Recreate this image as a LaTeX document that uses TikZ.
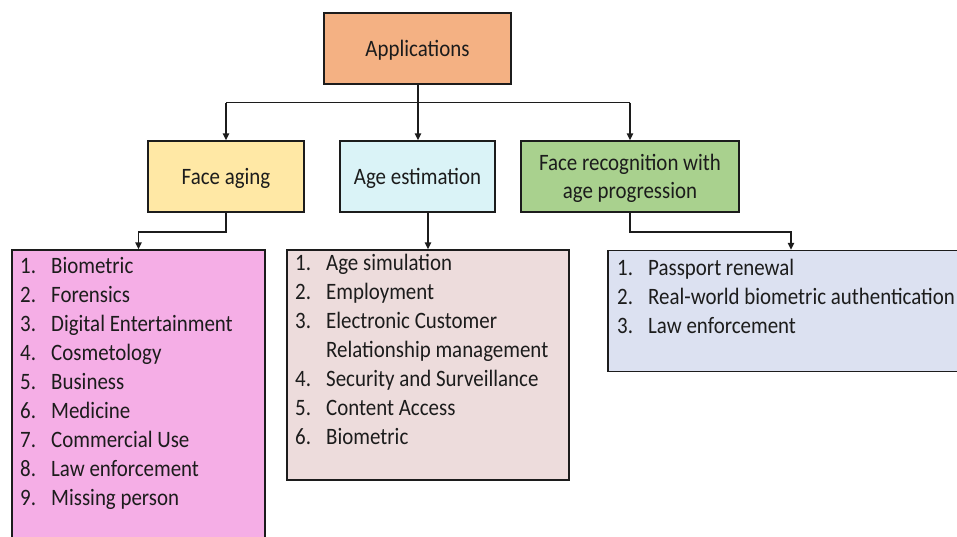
\documentclass[tikz,border=0pt]{standalone}
\usepackage{fontspec}
\setmainfont{Carlito}[FakeStretch=0.89]
\usetikzlibrary{arrows.meta}

\definecolor{appfill}{HTML}{F4B183}
\definecolor{agingfill}{HTML}{FFE8A5}
\definecolor{estfill}{HTML}{DAF3F7}
\definecolor{recogfill}{HTML}{A9D18E}
\definecolor{pinkfill}{HTML}{F5AEE6}
\definecolor{rosefill}{HTML}{EDDCDC}
\definecolor{bluefill}{HTML}{DCE1F1}
\definecolor{ink}{HTML}{1C1C1C}

\begin{document}
\begin{tikzpicture}[x=1pt,y=-1pt,
  box/.style={draw=ink, line width=1.5pt, rectangle, inner sep=0pt},
  label/.style={font=\fontsize{23.5}{28.5}\selectfont, text=ink, align=center, inner sep=0pt, yshift=-2pt},
  num/.style={font=\fontsize{23.5}{29}\selectfont, text=ink, anchor=base west, inner sep=0pt},
  itm/.style={num},
  link/.style={draw=ink, line width=1.5pt},
  arrow/.style={link, -{Triangle[length=7pt,width=6.5pt]}}]

\useasboundingbox (0,0) rectangle (957,536);
\clip (0,0) rectangle (957,536);

% top-level box
\node[box, fill=appfill, minimum width=187pt, minimum height=71pt] (app) at (417.5,48.5) {};
\node[label] (appt) at (app.center) {Applications};

% second-level boxes
\node[box, fill=agingfill, minimum width=156pt, minimum height=71pt] (aging) at (226,176.5) {};
\node[label] (agingt) at (aging.center) {Face aging};
\node[box, fill=estfill, minimum width=155pt, minimum height=71pt] (est) at (417.5,176.5) {};
\node[label] (estt) at (est.center) {Age estimation};
\node[box, fill=recogfill, minimum width=218pt, minimum height=71pt] (recog) at (630,176.5) {};
\node[label] (recogt) at (recog.center) {Face recognition with\\age progression};

% list boxes
\node[box, fill=pinkfill, minimum width=253pt, minimum height=320pt] (agelist) at (138.5,410) {};
\node[box, fill=rosefill, minimum width=282pt, minimum height=230pt] (estlist) at (428,365) {};
\node[box, fill=bluefill, minimum width=366pt, minimum height=121pt] (recoglist) at (791,311) {};

% connectors from the top box
\coordinate (bus) at (418,102.5);
\draw[link] (app.south -| bus) -- (bus);
\draw[link] (bus -| aging.north) -- (bus -| recog.north);
\draw[arrow] (bus -| aging.north) -- (aging.north);
\draw[arrow] (bus) -- (bus |- est.north);
\draw[arrow] (bus -| recog.north) -- (recog.north);

% connectors to the lists
\draw[arrow] (aging.south) |- (agelist.north |- 0,232) -- (agelist.north);
\draw[arrow] (est.south -| estlist.north) -- (estlist.north);
\draw[arrow] (recog.south) |- (recoglist.north |- 0,232) -- (recoglist.north);

% face aging applications
\foreach \t [count=\i] in {Biometric, Forensics, Digital Entertainment, Cosmetology,
    Business, Medicine, Commercial Use, Law enforcement, Missing person} {
  \node[num] (an\i) at (20,244+29*\i) {\i.};
  \node[itm] (at\i) at (51,244+29*\i) {\t};
}

% age estimation applications
\node[num] (en1) at (295,270) {1.};
\node[itm] (et1) at (326,270) {Age simulation};
\node[num] (en2) at (295,299) {2.};
\node[itm] (et2) at (326,299) {Employment};
\node[num] (en3) at (295,328) {3.};
\node[itm] (et3) at (326,328) {Electronic Customer};
\node[itm] (et3b) at (326,357) {Relationship management};
\node[num] (en4) at (295,386) {4.};
\node[itm] (et4) at (326,386) {Security and Surveillance};
\node[num] (en5) at (295,415) {5.};
\node[itm] (et5) at (326,415) {Content Access};
\node[num] (en6) at (295,444) {6.};
\node[itm] (et6) at (326,444) {Biometric};

% face recognition applications
\foreach \t [count=\i] in {Passport renewal, Real-world biometric authentication, Law enforcement} {
  \node[num] (rn\i) at (617,246+29*\i) {\i.};
  \node[itm] (rt\i) at (648,246+29*\i) {\t};
}
\end{tikzpicture}
\end{document}
